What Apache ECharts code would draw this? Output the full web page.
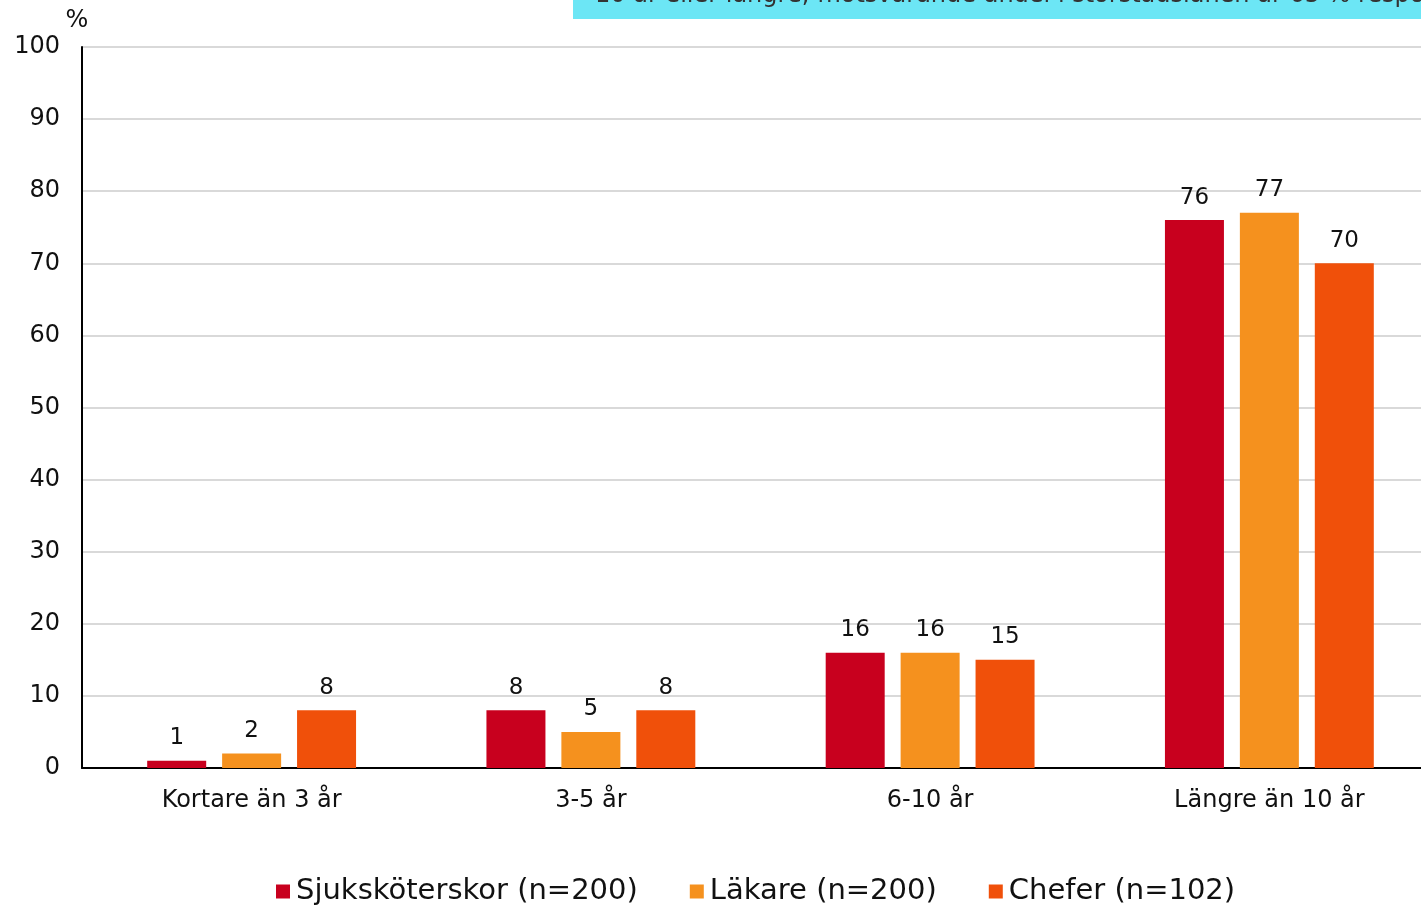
<!DOCTYPE html>
<html>
<head>
<meta charset="utf-8">
<script src="https://cdn.jsdelivr.net/npm/echarts@6/dist/echarts.min.js"></script>
<style>
  html, body { margin: 0; padding: 0; background: #fff; overflow: hidden; }
  /* plot runs a little past the right edge of the window, like the source */
  #chart { width: 1439px; height: 907px; }
</style>
</head>
<body>
<div id="chart"></div>
<script>
  var categories = ['Kortare än 3 år', '3-5 år', '6-10 år', 'Längre än 10 år'];
  var seriesNames = ['Sjuksköterskor (n=200)', 'Läkare (n=200)', 'Chefer (n=102)'];
  var sjukskoterskor = [1, 8, 16, 76];
  var lakare = [2, 5, 16, 77];
  var chefer = [8, 8, 15, 70];
  var colors = ['#C8001E', '#F5911E', '#F0500A'];

  var font = 'DejaVu Sans';

  function bar(name, data) {
    return {
      name: name,
      type: 'bar',
      data: data,
      barWidth: 59,
      barGap: '27%',
      label: {
        show: true,
        position: 'top',
        distance: 11,
        color: '#111',
        fontSize: 23,
        fontFamily: font
      }
    };
  }

  var myChart = echarts.init(document.getElementById('chart'));

  var option = {
    animation: false,
    color: colors,
    textStyle: { fontFamily: font },
    grid: { left: 82, right: 0, top: 47, bottom: 139, containLabel: false },
    graphic: [
      {
        type: 'rect',
        left: 573, top: 0,
        shape: { width: 870, height: 19 },
        style: { fill: '#6CE6F5' }
      },
      {
        type: 'text',
        left: 595, top: -16,
        style: {
          text: '10 år eller längre; motsvarande andel i storstadslänen är 65 % respondenterna',
          fill: '#333',
          font: '24px ' + font
        }
      }
    ],
    legend: {
      top: 877,
      left: 276,
      padding: 0,
      itemWidth: 14,
      itemHeight: 14,
      itemGap: 52,
      icon: 'rect',
      textStyle: { fontSize: 29, color: '#111', fontFamily: font, padding: [0, 0, 0, 1] },
      data: seriesNames
    },
    xAxis: {
      type: 'category',
      data: categories,
      axisLine: { lineStyle: { color: '#000', width: 2 } },
      axisTick: { show: false },
      axisLabel: { fontSize: 24, color: '#111', margin: 21, fontFamily: font }
    },
    yAxis: {
      type: 'value',
      min: 0,
      max: 100,
      interval: 10,
      name: '%',
      nameLocation: 'end',
      nameGap: 14,
      nameTextStyle: { fontSize: 24, color: '#111', align: 'center', padding: [0, 0, 0, -10], fontFamily: font },
      axisLine: { show: true, lineStyle: { color: '#000', width: 2 } },
      axisTick: { show: false },
      axisLabel: { fontSize: 24, color: '#111', margin: 22, fontFamily: font },
      splitLine: { lineStyle: { color: '#D9D9D9', width: 2 } }
    },
    series: [
      bar(seriesNames[0], sjukskoterskor),
      bar(seriesNames[1], lakare),
      bar(seriesNames[2], chefer)
    ]
  };

  myChart.setOption(option);
</script>
</body>
</html>
